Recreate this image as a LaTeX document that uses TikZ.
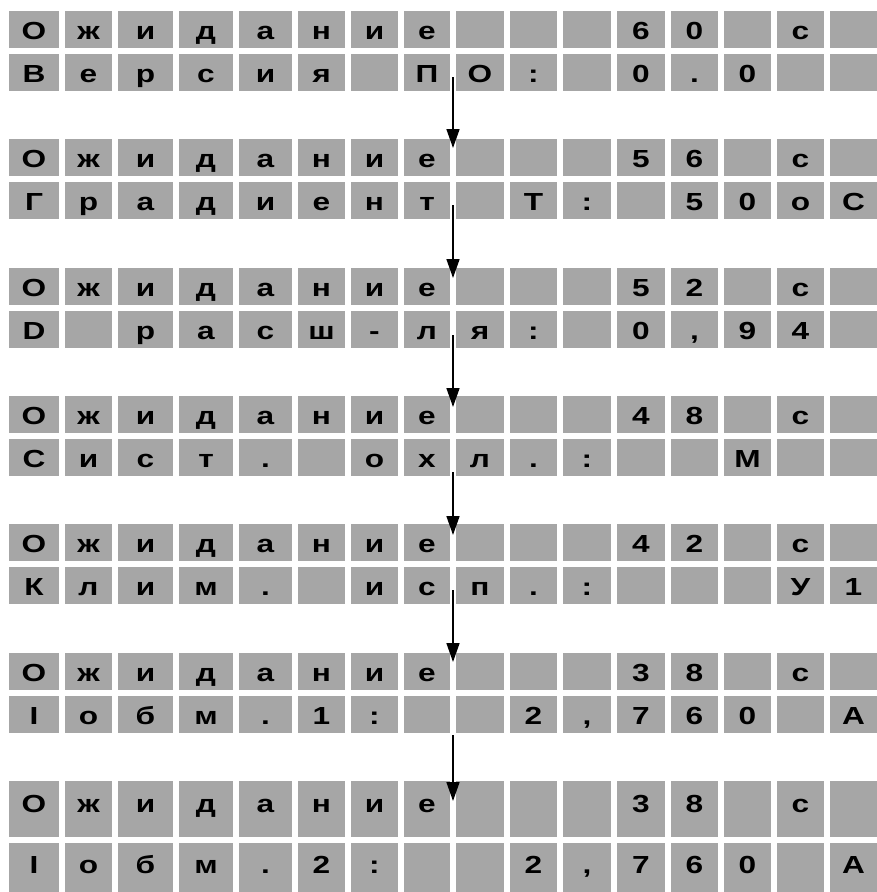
\documentclass[tikz,border=0pt]{standalone}
\usepackage{fontspec}
\newfontfamily\lcdfont{Liberation Sans}[FakeStretch=1.28]
\usetikzlibrary{arrows.meta}
\definecolor{lcdgray}{RGB}{166,166,166}

\begin{document}
\begin{tikzpicture}[
  x=1pt, y=-1pt,
  cell/.style={fill=lcdgray, draw=none, inner sep=0pt, outer sep=0pt, anchor=north west},
  glyph/.style={inner sep=0pt, anchor=base, font=\lcdfont\bfseries\fontsize{24.7}{28}\selectfont},
  arr/.style={-{Triangle[length=19pt,width=13pt]}, line width=1.6pt, draw=black}
]
\useasboundingbox (0,0) rectangle (877,892);
\def\colstart{{9,65,118,179,239,298,351,404,456,510,563,617,671,724,777,830}}
\def\colend{{59,112,173,233,292,345,398,450,504,557,611,665,718,771,824,877}}

% block / top / row heights / seconds / second line
\foreach \b/\yt/\ha/\hb/\ta/\tb/\rowb in {
    1/11/37/37/6/0/{В,е,р,с,и,я,{},П,О,:,{},0,.,0,{},{}},
    2/139/37/37/5/6/{Г,р,а,д,и,е,н,т,{},Т,:,{},5,0,о,С},
    3/268/37/37/5/2/{D,{},р,а,с,ш,-,л,я,:,{},0,{,},9,4,{}},
    4/396/37/37/4/8/{С,и,с,т,.,{},о,х,л,.,:,{},{},М,{},{}},
    5/524/37/37/4/2/{К,л,и,м,.,{},и,с,п,.,:,{},{},{},У,1},
    6/653/37/37/3/8/{I,о,б,м,.,1,:,{},{},2,{,},7,6,0,{},А},
    7/781/56/49/3/8/{I,о,б,м,.,2,:,{},{},2,{,},7,6,0,{},А}}
{
  \pgfmathsetmacro\ytb{\yt+\ha+6}
  \pgfmathsetmacro\boa{\yt+28+(\ha-37)/6}
  \pgfmathsetmacro\bob{\ytb+28+(\hb-37)/6}
  % first line: waiting time
  \foreach \ch [count=\c] in {О,ж,и,д,а,н,и,е,{},{},{},\ta,\tb,{},с,{}} {
    \pgfmathsetmacro\xl{\colstart[\c-1]}
    \pgfmathsetmacro\xr{\colend[\c-1]}
    \pgfmathsetmacro\w{\xr-\xl}
    \pgfmathsetmacro\xm{(\xl+\xr)/2}
    \node[cell, minimum width=\w pt, minimum height=\ha pt] (c\b-1-\c) at (\xl,\yt) {};
    \node[glyph] (t\b-1-\c) at (\xm,\boa) {\ch};
  }
  % second line: parameter
  \foreach \ch [count=\c] in \rowb {
    \pgfmathsetmacro\xl{\colstart[\c-1]}
    \pgfmathsetmacro\xr{\colend[\c-1]}
    \pgfmathsetmacro\w{\xr-\xl}
    \pgfmathsetmacro\xm{(\xl+\xr)/2}
    \node[cell, minimum width=\w pt, minimum height=\hb pt] (c\b-2-\c) at (\xl,\ytb) {};
    \node[glyph] (t\b-2-\c) at (\xm,\bob) {\ch};
  }
}

\foreach \i/\j/\so/\to in {1/2/23/9, 2/3/23/10, 3/4/24/11, 4/5/33/11, 5/6/23/9, 6/7/39/20}
  \draw[arr] ([xshift=3pt,yshift=-\so pt]c\i-2-8.north east) -- ([xshift=3pt,yshift=-\to pt]c\j-1-8.north east);
\end{tikzpicture}
\end{document}
